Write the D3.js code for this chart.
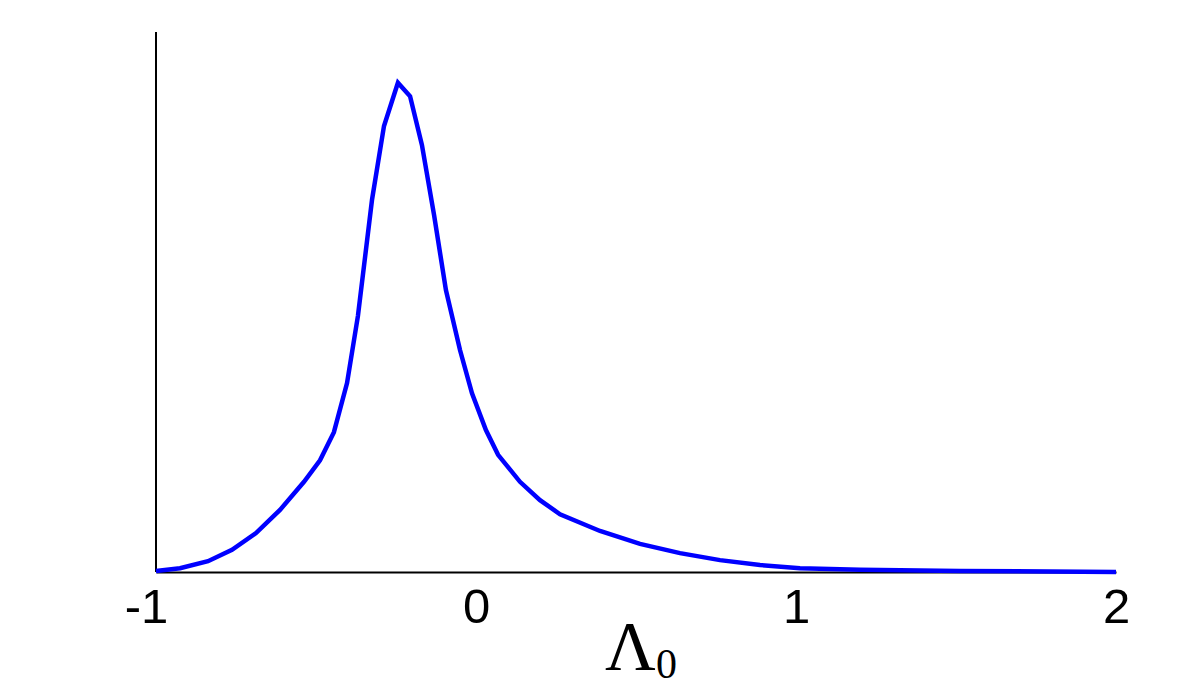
<!DOCTYPE html>
<html>
<head>
  <meta charset="utf-8">
  <title>Lambda0</title>
  <script src="https://d3js.org/d3.v7.min.js"></script>
  <style>
    body { margin: 0; background: #fff; }
    .tick text { font-family: "Liberation Sans", Arial, sans-serif; }
  </style>
</head>
<body>
<div id="grafico"></div>
<script>
  "use strict"

  // valores
  var lambdaX = [-1.0, -0.925, -0.8375, -0.7625, -0.6875, -0.6125, -0.5375, -0.4875, -0.444, -0.403,
                 -0.369, -0.325, -0.2875, -0.244, -0.206, -0.169, -0.131, -0.094, -0.05, -0.0125,
                 0.031, 0.069, 0.1375, 0.2, 0.2625, 0.3875, 0.5125, 0.6375, 0.7625, 0.8875,
                 1.0125, 1.2, 1.5125, 2.0];
  var densidade = [0.002, 0.007, 0.020, 0.041, 0.072, 0.115, 0.167, 0.207, 0.259, 0.350,
                   0.474, 0.689, 0.826, 0.906, 0.881, 0.791, 0.661, 0.522, 0.411, 0.331,
                   0.263, 0.217, 0.167, 0.133, 0.107, 0.076, 0.052, 0.035, 0.022, 0.013,
                   0.007, 0.004, 0.002, 0.0];
  var ticksX = [-1, 0, 1, 2];

  var larguraSVG = 1204, alturaSVG = 693;
  var margin = {top: 32, right: 88, bottom: 121, left: 156},
      larguraVis = larguraSVG - margin.left - margin.right,
      alturaVis = alturaSVG - margin.top - margin.bottom;

  var svg = d3.select('#grafico')
    .append('svg')
    .attr('width', larguraSVG)
    .attr('height', alturaSVG);

  var g = svg.append('g')
    .attr('transform', 'translate(' + margin.left + ',' + margin.top + ')');

  var x = d3.scaleLinear().domain([-1, 2]).range([0, larguraVis]);
  var y = d3.scaleLinear().domain([0, 1]).range([alturaVis, 0]);

  var dados = lambdaX.map((d, i) => ({x: d, y: densidade[i]}));

  // eixo y (so a linha)
  g.append('line')
    .attr('x1', 0).attr('x2', 0)
    .attr('y1', y(0)).attr('y2', y(1))
    .attr('stroke', 'black').attr('stroke-width', 2);

  // eixo x
  var eixoX = g.append('g')
    .attr('transform', 'translate(0,' + alturaVis + ')')
    .call(d3.axisBottom(x).tickValues(ticksX).tickFormat(d3.format('d')).tickSize(0).tickPadding(16));
  eixoX.select('.domain').attr('stroke', 'black').attr('stroke-width', 2);
  eixoX.selectAll('.tick text')
    .attr('font-size', 49)
    .attr('fill', 'black')
    .attr('dx', d => d < 0 ? -10 : 0)
    .text(d => d < 0 ? '-' + Math.abs(d) : d);

  // curva
  g.append('path')
    .datum(dados)
    .attr('fill', 'none')
    .attr('stroke', '#0000ff')
    .attr('stroke-width', 4.5)
    .attr('stroke-linejoin', 'miter')
    .attr('d', d3.line().x(d => x(d.x)).y(d => y(d.y)));

  // rotulo do eixo x
  var rotulo = svg.append('text')
    .attr('x', 641)
    .attr('y', 670)
    .attr('text-anchor', 'middle')
    .attr('font-family', '"Liberation Serif", "DejaVu Serif", serif')
    .attr('font-size', 70)
    .attr('fill', 'black');
  rotulo.append('tspan').text('Λ');
  rotulo.append('tspan').attr('font-size', 42).attr('dy', 8).text('0');
</script>
</body>
</html>
